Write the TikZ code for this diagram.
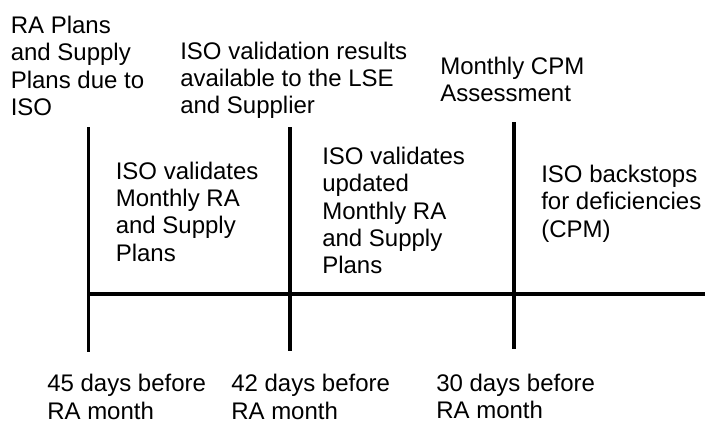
\documentclass[tikz,border=0pt]{standalone}
\usepackage{fontspec}
\setmainfont{Liberation Sans}
\begin{document}
\begin{tikzpicture}[x=0.75pt,y=-0.75pt,
  lbl/.style={anchor=north west,inner sep=0pt,align=left,font=\fontsize{18pt}{20.5pt}\selectfont},
  tline/.style={line width=2.4pt,black}]
\useasboundingbox (0,0) rectangle (705,422);
% vertical ticks and timeline
\coordinate (v1t) at (88.5,127); \coordinate (v1b) at (88.5,352);
\coordinate (v2t) at (290,127); \coordinate (v2b) at (290,351);
\coordinate (v3t) at (514,122); \coordinate (v3b) at (514,349);
\coordinate (hs) at (88.5,294); \coordinate (he) at (705,294);
\draw[tline] (v1t) -- (v1b);
\draw[tline] (v2t) -- (v2b);
\draw[tline] (v3t) -- (v3b);
\draw[tline] (hs) -- (he);
% top labels
\node[lbl] (t1) at (10.5,16) {RA Plans\\and Supply\\Plans due to\\ISO};
\node[lbl] (t2) at (180,41.5) {ISO validation results\\available to the LSE\\and Supplier};
\node[lbl] (t3) at (440,56.5) {Monthly CPM\\Assessment};
% interval labels
\node[lbl] (m1) at (115.5,161.5) {ISO validates\\Monthly RA\\and Supply\\Plans};
\node[lbl] (m2) at (322,147) {ISO validates\\updated\\Monthly RA\\and Supply\\Plans};
\node[lbl] (m3) at (541,165) {ISO backstops\\for deficiencies\\(CPM)};
% bottom labels
\node[lbl] (b1) at (47,374) {45 days before\\RA month};
\node[lbl] (b2) at (231,374) {42 days before\\RA month};
\node[lbl] (b3) at (436,373.5) {30 days before\\RA month};
\end{tikzpicture}
\end{document}
